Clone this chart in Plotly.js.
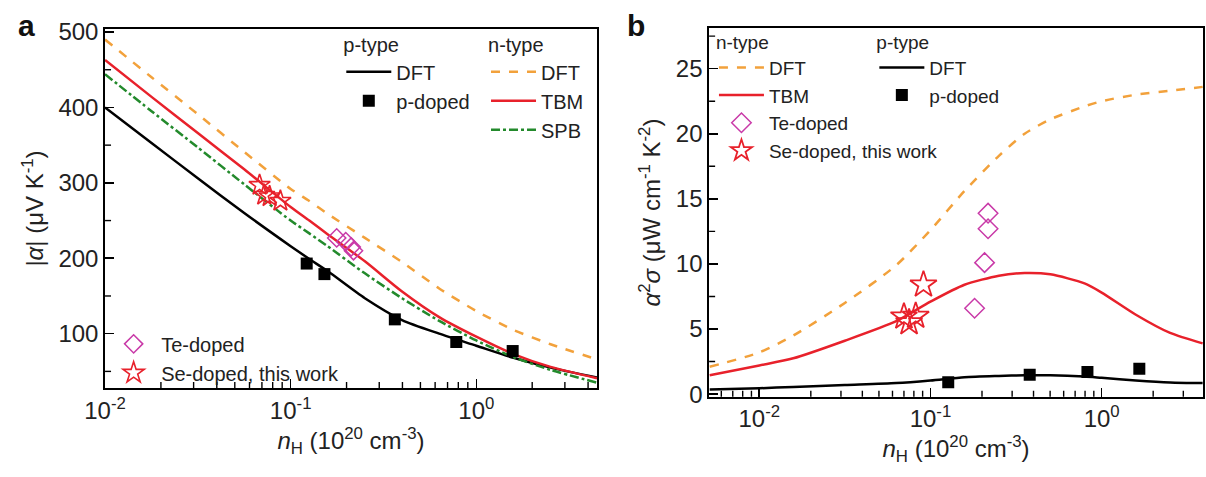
<!DOCTYPE html>
<html>
<head>
<meta charset="utf-8">
<script src="https://cdn.plot.ly/plotly-3.0.1.min.js"></script>
<style>html,body{margin:0;padding:0;background:#fff;}#chart{width:1206px;height:477px;}</style>
</head>
<body>
<div id="chart"></div>
<script>
// ---------- Panel a: |alpha| vs n_H ----------
const curveX_a = [0.01, 0.0178, 0.0316, 0.0562, 0.1, 0.126, 0.158, 0.251, 0.398, 0.631, 1.0, 1.585, 2.512, 4.47];
const pDFT_a   = [400, 353, 306, 260, 216, 199, 183, 147, 118, 100, 84, 68, 55, 42];
const nDFT_a   = [490, 440, 391, 341, 292, 276, 259, 227, 195, 160, 130, 105, 86, 66];
const TBM_a    = [463, 414, 366, 318, 268, 250, 232, 196, 156, 122, 96, 73, 56, 41];
const SPB_a    = [444, 395, 347, 298, 250, 233, 216, 180, 147, 117, 91, 69, 52, 35];
const pDopedX_a = [0.122, 0.152, 0.364, 0.78, 1.57];
const pDopedY_a = [193, 179, 119, 89, 77];
const teX_a = [0.177, 0.198, 0.212, 0.218];
const teY_a = [227, 222, 215, 210];
const seX_a = [0.068, 0.072, 0.077, 0.088];
const seY_a = [297, 284, 282, 276];

// ---------- Panel b: alpha^2 sigma vs n_H ----------
const curveX_b = [0.00513, 0.01, 0.0158, 0.0316, 0.0631, 0.1, 0.158, 0.251, 0.355, 0.501, 0.794, 1.0, 1.585, 2.512, 3.89];
const nDFT_b   = [2.1, 3.2, 4.5, 7.0, 9.9, 12.6, 15.6, 18.3, 20.0, 21.1, 22.1, 22.5, 23.0, 23.3, 23.6];
const TBM_b    = [1.45, 2.2, 2.75, 4.1, 5.6, 7.1, 8.4, 9.1, 9.3, 9.2, 8.5, 7.8, 6.1, 4.7, 3.9];
const pDFT_b   = [0.35, 0.45, 0.55, 0.7, 0.85, 1.05, 1.3, 1.4, 1.45, 1.45, 1.35, 1.25, 1.05, 0.9, 0.85];
const pDopedX_b = [0.127, 0.38, 0.826, 1.66];
const pDopedY_b = [0.92, 1.48, 1.7, 1.95];
const teX_b = [0.181, 0.207, 0.217, 0.217];
const teY_b = [6.6, 10.1, 12.7, 13.9];
const seX_b = [0.070, 0.075, 0.082, 0.091];
const seY_b = [5.95, 5.5, 6.0, 8.4];

// tick positions and labels
const majorTicksX = [0.01, 0.1, 1];
const majorLabelsX = ['10<sup>-2</sup>', '10<sup>-1</sup>', '10<sup>0</sup>'];
const minorTicksX_a = [0.02, 0.03, 0.04, 0.05, 0.06, 0.07, 0.08, 0.09, 0.2, 0.3, 0.4, 0.5, 0.6, 0.7, 0.8, 0.9, 2, 3, 4];
const minorTicksX_b = [0.006, 0.007, 0.008, 0.009, 0.02, 0.03, 0.04, 0.05, 0.06, 0.07, 0.08, 0.09, 0.2, 0.3, 0.4, 0.5, 0.6, 0.7, 0.8, 0.9, 2, 3];
const majorTicksY_a = [100, 200, 300, 400, 500];
const minorTicksY_a = [50, 150, 250, 350, 450];
const majorTicksY_b = [0, 5, 10, 15, 20, 25];
const minorTicksY_b = [2.5, 7.5, 12.5, 17.5, 22.5, 27.5];

const FONT = 'Liberation Sans, Arial, sans-serif';
const ORANGE = '#f2a13b', RED = '#e8212b', GREEN = '#238a2c', MAGENTA = '#c93aa8';

function line(x, y, name, color, dash, xa, ya, leg) {
  return {x: x, y: y, name: name, type: 'scatter', mode: 'lines', xaxis: xa, yaxis: ya,
    line: {color: color, width: 2.5, dash: dash, shape: 'spline', smoothing: 0.7},
    legend: leg, showlegend: true};
}
function pts(x, y, name, symbol, color, size, xa, ya, leg, lw) {
  return {x: x, y: y, name: name, type: 'scatter', mode: 'markers', xaxis: xa, yaxis: ya,
    marker: {symbol: symbol, color: color, size: size, line: {color: color, width: lw}},
    legend: leg, showlegend: true};
}

const data = [
  line(curveX_a, pDFT_a, 'DFT', '#000', 'solid', 'x', 'y', 'legend'),
  line(curveX_a, nDFT_a, 'DFT', ORANGE, 'dash', 'x', 'y', 'legend2'),
  line(curveX_a, TBM_a, 'TBM', RED, 'solid', 'x', 'y', 'legend2'),
  line(curveX_a, SPB_a, 'SPB', GREEN, 'dashdot', 'x', 'y', 'legend2'),
  line(curveX_b, nDFT_b, 'DFT', ORANGE, 'dash', 'x2', 'y2', 'legend4'),
  line(curveX_b, TBM_b, 'TBM', RED, 'solid', 'x2', 'y2', 'legend4'),
  line(curveX_b, pDFT_b, 'DFT', '#000', 'solid', 'x2', 'y2', 'legend5'),
  pts(pDopedX_a, pDopedY_a, 'p-doped', 'square', '#000', 12, 'x', 'y', 'legend', 0),
  pts(teX_a, teY_a, 'Te-doped', 'diamond-open', MAGENTA, 14, 'x', 'y', 'legend3', 1.5),
  pts(seX_a, seY_a, 'Se-doped, this work', 'star-open', RED, 16, 'x', 'y', 'legend3', 1.6),
  pts(teX_b, teY_b, 'Te-doped', 'diamond-open', MAGENTA, 15, 'x2', 'y2', 'legend4', 1.5),
  pts(seX_b, seY_b, 'Se-doped, this work', 'star-open', RED, 20, 'x2', 'y2', 'legend4', 1.8),
  pts(pDopedX_b, pDopedY_b, 'p-doped', 'square', '#000', 12, 'x2', 'y2', 'legend5', 0)
];

function xAxis(domain, range, anchor) {
  return {type: 'log', domain: domain, range: range, anchor: anchor, automargin: false,
    tickmode: 'array', tickvals: majorTicksX, ticktext: majorLabelsX,
    ticks: 'inside', ticklen: 9, tickwidth: 1.6, tickcolor: '#000',
    showline: true, mirror: true, linewidth: 1.8, linecolor: '#000',
    showgrid: false, zeroline: false, tickfont: {size: 24, color: '#222'},
    title: {text: '<i>n</i><sub>H</sub> (10<sup>20</sup> cm<sup>-3</sup>)', font: {size: 24, color: '#222'}, standoff: 2}};
}
function yAxis(domain, range, anchor, major, title) {
  return {domain: domain, range: range, anchor: anchor, automargin: false,
    tickmode: 'array', tickvals: major,
    ticks: 'inside', ticklen: 9, tickwidth: 1.6, tickcolor: '#000',
    showline: true, mirror: true, linewidth: 1.8, linecolor: '#000',
    showgrid: false, zeroline: false, tickfont: {size: 24, color: '#222'},
    title: {text: title, font: {size: 24, color: '#222'}, standoff: 8}};
}
function legendBox(x, y, title, size) {
  const l = {x: x, y: y, xanchor: 'left', yanchor: 'top', bgcolor: 'rgba(0,0,0,0)',
    font: {size: size, color: '#222'}, itemwidth: 45, tracegroupgap: 0};
  if (title) l.title = {text: title, side: 'top', font: {size: size, color: '#222'}};
  return l;
}

// minor ticks: short inside tick marks placed through the axes' own scales
const shapes = [];
function addMinorX(vals, xref, yref) {
  vals.forEach(v => shapes.push({type: 'line', xref: xref, yref: yref, x0: v, x1: v,
    ysizemode: 'pixel', yanchor: 0, y0: 0, y1: 6, line: {color: '#000', width: 1.4}, layer: 'above'}));
}
function addMinorY(vals, xref, yref) {
  vals.forEach(v => shapes.push({type: 'line', xref: xref, yref: yref, y0: v, y1: v,
    xsizemode: 'pixel', xanchor: 0, x0: 0, x1: 6, line: {color: '#000', width: 1.4}, layer: 'above'}));
}
addMinorX(minorTicksX_a, 'x', 'y domain');
addMinorY(minorTicksY_a, 'x domain', 'y');
addMinorX(minorTicksX_b, 'x2', 'y2 domain');
addMinorY(minorTicksY_b, 'x2 domain', 'y2');

const layout = {
  width: 1206, height: 477,
  margin: {l: 0, r: 0, t: 0, b: 0},
  paper_bgcolor: '#fff', plot_bgcolor: '#fff',
  font: {family: FONT, color: '#222'},
  xaxis: xAxis([0.0871, 0.495], [-2, 0.65], 'y'),
  yaxis: yAxis([0.1866, 0.9392], [28, 504], 'x', majorTicksY_a, '|<i>α</i>| (μV K<sup>-1</sup>)'),
  xaxis2: xAxis([0.588, 0.9975], [-2.293, 0.592], 'y2'),
  yaxis2: yAxis([0.1683, 0.9407], [-0.2, 28.1], 'x2', majorTicksY_b, '<i>α</i><sup>2</sup><i>σ</i> (μW cm<sup>-1</sup> K<sup>-2</sup>)'),
  legend: legendBox(0.283, 0.945, 'p-type', 20),
  legend2: legendBox(0.403, 0.945, 'n-type', 20),
  legend3: legendBox(0.088, 0.32, null, 20),
  legend4: legendBox(0.592, 0.95, 'n-type', 19),
  legend5: legendBox(0.725, 0.95, 'p-type', 19),
  shapes: shapes,
  annotations: [
    {text: '<b>a</b>', x: 0.022, y: 0.985, xref: 'paper', yref: 'paper', xanchor: 'center', yanchor: 'top', showarrow: false, font: {size: 30, color: '#111'}},
    {text: '<b>b</b>', x: 0.527, y: 0.985, xref: 'paper', yref: 'paper', xanchor: 'center', yanchor: 'top', showarrow: false, font: {size: 30, color: '#111'}}
  ]
};

Plotly.newPlot('chart', data, layout, {displayModeBar: false, staticPlot: true});
</script>
</body>
</html>
